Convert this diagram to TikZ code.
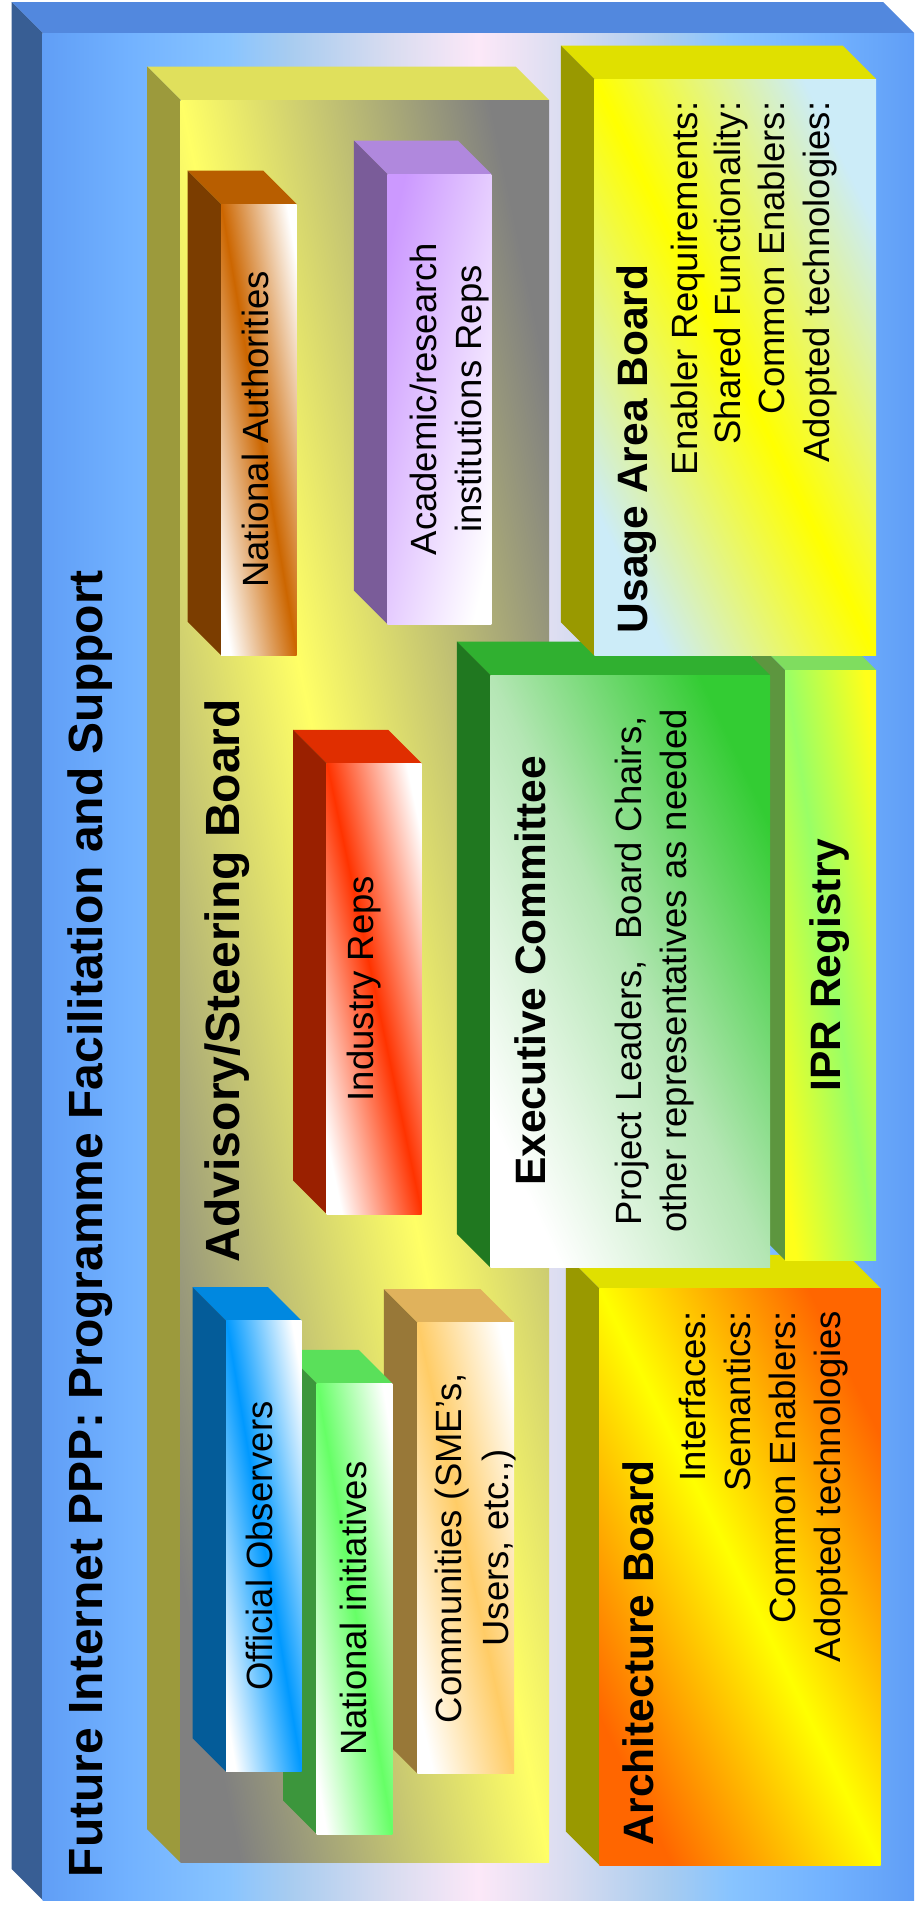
\documentclass[tikz,border=0pt]{standalone}
\usepackage{fontspec}
\setmainfont{Liberation Sans}
% ---------- colours ----------
\definecolor{outerTop}{HTML}{5288DE}
\definecolor{outerSide}{HTML}{385E94}
\definecolor{oA}{HTML}{609EF6}
\definecolor{oB}{HTML}{72B2FF}
\definecolor{oC}{HTML}{88C4FF}
\definecolor{oD}{HTML}{A8CCF0}
\definecolor{oE}{HTML}{D8DCF0}
\definecolor{oF}{HTML}{FCE8F8}
\definecolor{advTop}{HTML}{E0E05C}
\definecolor{advSide}{HTML}{9C9A3C}
\definecolor{advGray}{HTML}{808080}
\definecolor{advYel}{HTML}{FFFF66}
\definecolor{ubTop}{HTML}{E0E000}
\definecolor{ubSide}{HTML}{999900}
\definecolor{ubCyan}{HTML}{CCECF8}
\definecolor{ubYel}{HTML}{FFFF00}
\definecolor{naTop}{HTML}{B85E00}
\definecolor{naSide}{HTML}{7B3D00}
\definecolor{naCol}{HTML}{CC6600}
\definecolor{acTop}{HTML}{B088DD}
\definecolor{acSide}{HTML}{7A5C99}
\definecolor{acCol}{HTML}{CC99FF}
\definecolor{inTop}{HTML}{E02E00}
\definecolor{inSide}{HTML}{9A2000}
\definecolor{inCol}{HTML}{FF3300}
\definecolor{exTop}{HTML}{30B030}
\definecolor{exSide}{HTML}{207820}
\definecolor{exCol}{HTML}{33CC33}
\definecolor{exMid}{HTML}{B4E6B4}
\definecolor{ipTop}{HTML}{7FDD5F}
\definecolor{ipSide}{HTML}{5D963F}
\definecolor{ipGreen}{HTML}{99FF66}
\definecolor{ipYel}{HTML}{FFFF1A}
\definecolor{arOrange}{HTML}{FF6600}
\definecolor{arYel}{HTML}{FFFF00}
\definecolor{ofTop}{HTML}{0088E0}
\definecolor{ofSide}{HTML}{045C99}
\definecolor{ofCol}{HTML}{0099FF}
\definecolor{niTop}{HTML}{5AE05A}
\definecolor{niSide}{HTML}{3C963C}
\definecolor{niCol}{HTML}{66FF66}
\definecolor{coTop}{HTML}{E0B25C}
\definecolor{coSide}{HTML}{987838}
\definecolor{coCol}{HTML}{FFCC66}
% ---------- shadings ----------
\pgfdeclarehorizontalshading{outerfront}{100bp}{color(0bp)=(oA); color(25bp)=(oA); color(30bp)=(oB); color(35.6bp)=(oC); color(39.2bp)=(oD); color(44.9bp)=(oE); color(50bp)=(oF); color(55.1bp)=(oE); color(60.8bp)=(oD); color(64.4bp)=(oC); color(70bp)=(oB); color(75bp)=(oA); color(100bp)=(oA)}
\newcommand{\diagshading}[3]{\pgfdeclarehorizontalshading{#1}{100bp}{color(0bp)=(#2); color(25bp)=(#2); color(50bp)=(#3); color(75bp)=(#2); color(100bp)=(#2)}}
\newcommand{\twoshading}[3]{\pgfdeclarehorizontalshading{#1}{100bp}{color(0bp)=(#2); color(25bp)=(#2); color(75bp)=(#3); color(100bp)=(#3)}}
\diagshading{advshade}{advGray}{advYel}
\diagshading{ubshade}{ubCyan}{ubYel}
\diagshading{nashade}{white}{naCol}
\twoshading{acshade}{acCol}{white}
\diagshading{inshade}{white}{inCol}
\pgfdeclarehorizontalshading{exshade}{100bp}{color(0bp)=(white); color(25bp)=(white); color(50bp)=(exMid); color(75bp)=(exCol); color(100bp)=(exCol)}
\diagshading{ipshade}{ipYel}{ipGreen}
\diagshading{arshade}{arOrange}{arYel}
\diagshading{ofshade}{white}{ofCol}
\diagshading{nishade}{white}{niCol}
\diagshading{coshade}{white}{coCol}
% ---------- extruded box: [depth]{name}{x1}{y1}{x2}{y2}{top}{side}{front style}
\newcommand{\cubebox}[9][33.5]{%
  \pgfmathsetmacro\cubeang{atan((#5-#3)/(#6-#4))}%
  \fill[fill=#7] (#3,#4) -- ({#3-#1},{#4-#1}) -- ({#5-#1},{#4-#1}) -- (#5,#4) -- cycle;
  \fill[fill=#8] (#3,#4) -- ({#3-#1},{#4-#1}) -- ({#3-#1},{#6-#1}) -- (#3,#6) -- cycle;
  \node[frontface, #9, anchor=north west, minimum width={#5-#3}, minimum height={#6-#4}] (#2) at (#3,#4) {};
}
\begin{document}
\begin{tikzpicture}[x=1pt, y=-1pt,
  frontface/.style={shade, inner sep=0pt, outer sep=0pt, draw=none},
  diag/.style={shading=#1, shading angle=\cubeang},
  antidiag/.style={shading=#1, shading angle=-\cubeang},
  txt/.style={rotate=90, inner sep=0pt, outer sep=0pt, text=black, font=\fontsize{36.5}{44}\selectfont},
  btxt/.style={rotate=90, inner sep=0pt, outer sep=0pt, text=black, font=\fontsize{42.5}{50}\selectfont\bfseries},
  bigtxt/.style={rotate=90, inner sep=0pt, outer sep=0pt, text=black, font=\fontsize{48}{56}\selectfont\bfseries}]
\useasboundingbox (0,0) rectangle (914,1909);
\clip (0,0) rectangle (914,1909);
% outer frame
\cubebox[31]{outer}{42.6}{33}{914}{1900}{outerTop}{outerSide}{shading=outerfront, shading angle=0}
% advisory board and its members
\cubebox{adv}{180.7}{100}{549}{1862.7}{advTop}{advSide}{diag=advshade}
\cubebox{natauth}{221}{204}{296.7}{655}{naTop}{naSide}{diag=nashade}
\cubebox{acad}{387.3}{174}{491.3}{624}{acTop}{acSide}{antidiag=acshade}
\cubebox{indus}{326.7}{763.3}{421.7}{1214}{inTop}{inSide}{diag=inshade}
\cubebox{comm}{417.3}{1322.7}{514}{1773.3}{coTop}{coSide}{diag=coshade}
\cubebox{natini}{316.7}{1383.3}{392.3}{1834}{niTop}{niSide}{diag=nishade}
\cubebox{offobs}{226}{1320.7}{301.7}{1771.7}{ofTop}{ofSide}{diag=ofshade}
% boards on the right
\cubebox{arch}{599.3}{1288.3}{880.7}{1865}{ubTop}{ubSide}{diag=arshade}
\cubebox{ipr}{785}{670}{876}{1260}{ipTop}{ipSide}{diag=ipshade}
\cubebox{exec}{490.3}{675}{770}{1267.3}{exTop}{exSide}{diag=exshade}
\cubebox{usage}{594.3}{79}{876}{655.7}{ubTop}{ubSide}{diag=ubshade}
% ---------- texts ----------
\node[bigtxt, anchor=base west] (title) at (102,1877) {Future Internet PPP: Programme Facilitation and Support};
\node[bigtxt, anchor=base west] (advtitle) at (239,1262) {Advisory/Steering Board};
\node[txt, anchor=base] (natauthtxt) at (268,429.5) {National Authorities};
\node[txt, anchor=base] (acadtxta) at (436,399) {Academic/research};
\node[txt, anchor=base] (acadtxtb) at (481,399) {institutions Reps};
\node[txt, anchor=base] (industxt) at (373,988.6) {Industry Reps};
\node[txt, anchor=base] (offobstxt) at (272,1546) {Official Observers};
\node[txt, anchor=base] (natinitxt) at (366,1608.7) {National initiatives};
\node[txt, anchor=base] (commtxta) at (461,1548) {Communities (SME’s,};
\node[txt, anchor=base] (commtxtb) at (508,1548) {Users, etc.,)};
\node[btxt, anchor=base] (exectitle) at (545,971) {Executive Committee};
\node[txt, anchor=base] (exectxta) at (641,971) {Project Leaders,\ \ Board Chairs,};
\node[txt, anchor=base] (exectxtb) at (686,971) {other representatives as needed};
\node[btxt, anchor=base] (iprtxt) at (840,965) {IPR Registry};
\node[btxt, anchor=base west] (usagetitle) at (647,633) {Usage Area Board};
\node[txt, anchor=base east] (usagea) at (697,101.7) {Enabler Requirements:};
\node[txt, anchor=base east] (usageb) at (740,101.7) {Shared Functionality:};
\node[txt, anchor=base east] (usagec) at (784,101.7) {Common Enablers:};
\node[txt, anchor=base east] (usaged) at (829,101.7) {Adopted technologies:};
\node[btxt, anchor=base west] (archtitle) at (653,1845) {Architecture Board};
\node[txt, anchor=base east] (archa) at (705,1311) {Interfaces:};
\node[txt, anchor=base east] (archb) at (750,1311) {Semantics:};
\node[txt, anchor=base east] (archc) at (795,1311) {Common Enablers:};
\node[txt, anchor=base east] (archd) at (840,1311) {Adopted technologies};
\end{tikzpicture}
\end{document}
